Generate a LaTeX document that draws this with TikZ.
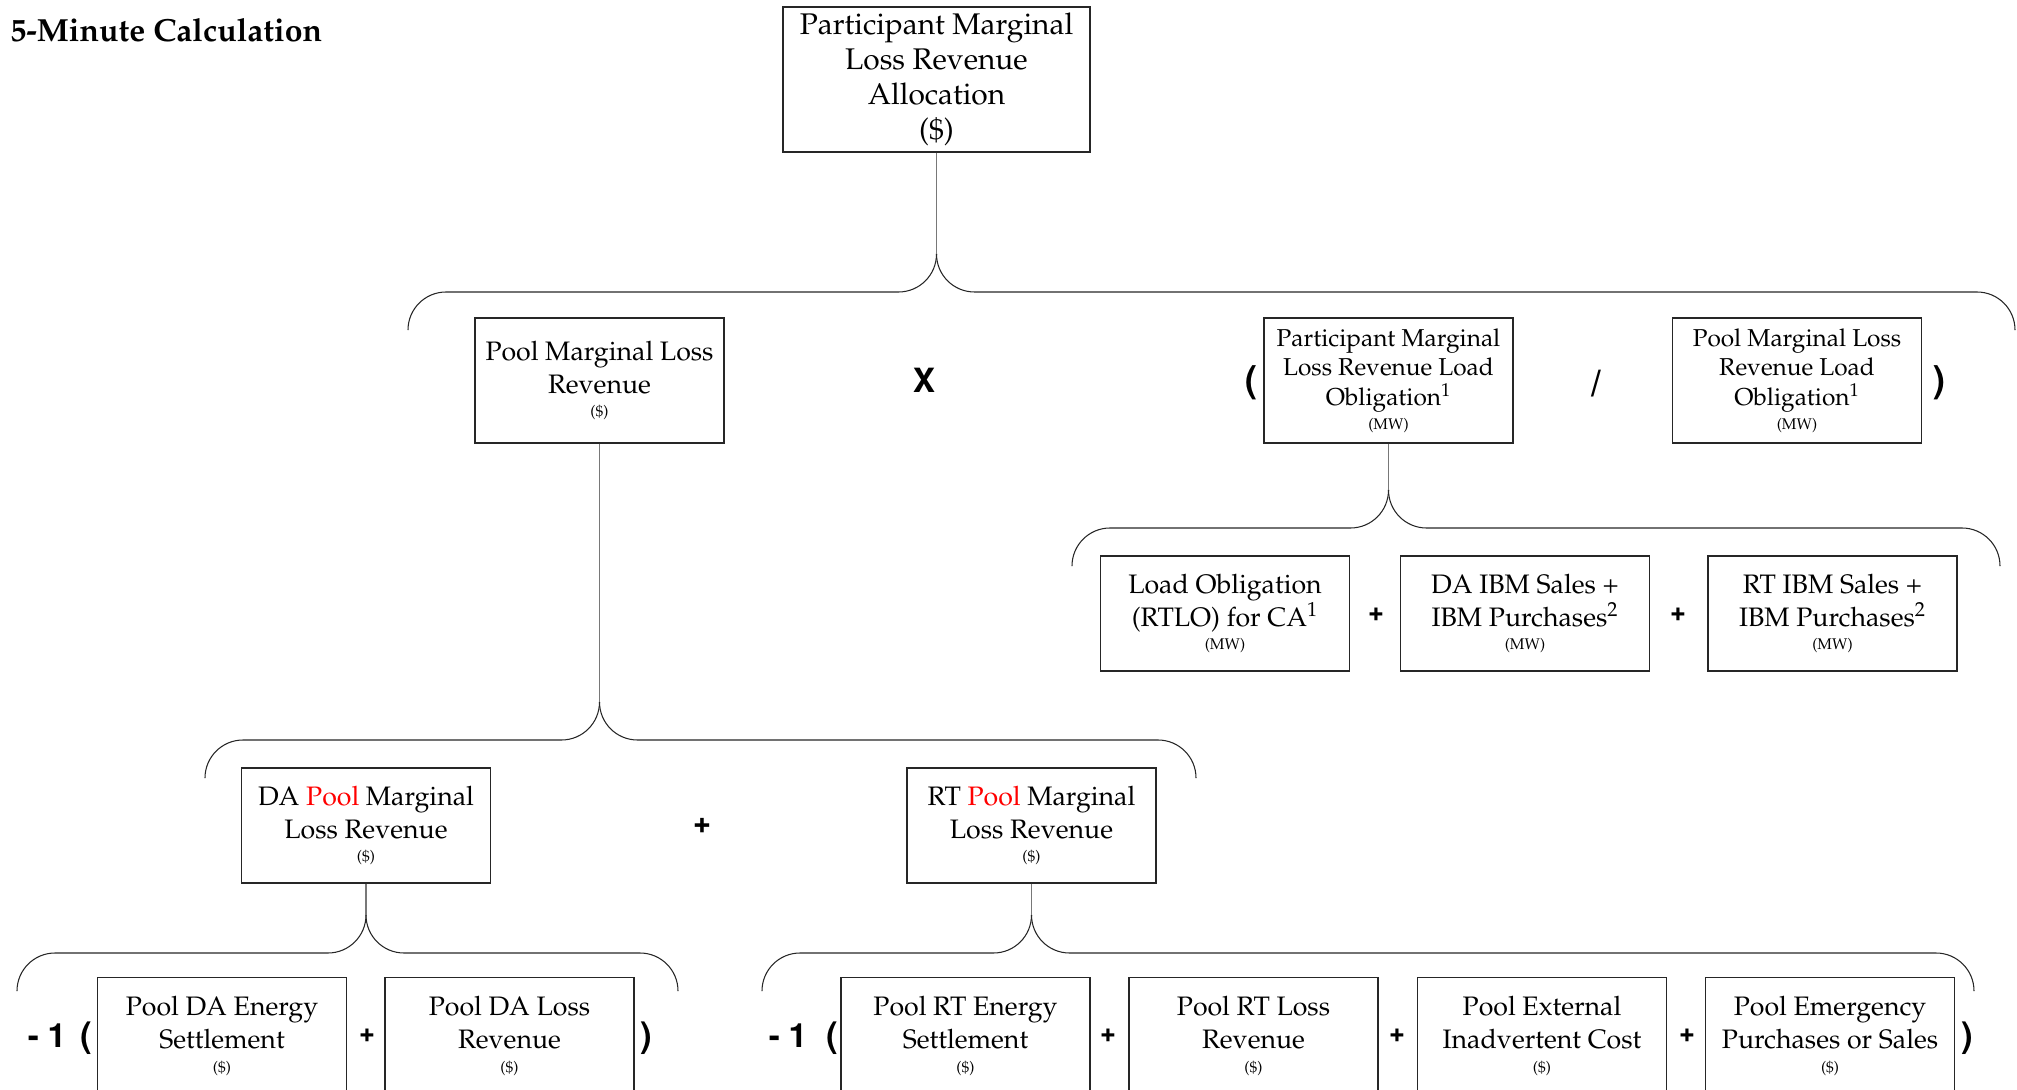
\documentclass[tikz,border=0pt]{standalone}
\usepackage[T1]{fontenc}
\usepackage{mathpazo}
\usepackage{helvet}
\usetikzlibrary{calc}

\definecolor{linkgray}{RGB}{120,120,120}
\newcommand\unitsz{\fontsize{8.8}{10}\selectfont}
\tikzset{
  calcbox/.style={draw=black!85, line width=0.65pt, minimum width=49.8mm, minimum height=23mm,
    inner sep=0pt, align=center, font=\fontsize{15.2}{18.6}\selectfont},
  topbox/.style={calcbox, minimum width=61.4mm, minimum height=29mm, font=\fontsize{17}{20}\selectfont},
  rowtwo/.style={calcbox, minimum height=25mm},
  ratio/.style={rowtwo, font=\fontsize{13.9}{16.8}\selectfont},
  lastbox/.style={calcbox, minimum height=23.4mm},
  op/.style={inner sep=0pt, font=\sffamily\bfseries\fontsize{#1}{#1}\selectfont},
  op/.default=16,
  link/.style={draw=linkgray, line width=0.8pt},
  brc/.style={draw=black!85, line width=0.6pt, rounded corners=7.6mm},
}
\newcommand\calcbrace[5]{%
  \coordinate (#1) at (#2,{#3-38});
  \draw[brc] (#4,{#3+38}) -- (#4,#3) -- (#2,#3) -- (#1);
  \draw[brc] (#5,{#3+38}) -- (#5,#3) -- (#2,#3) -- (#1);
}

\begin{document}
\begin{tikzpicture}[x=0.2mm,y=-0.2mm]
\useasboundingbox (0,0) rectangle (2017,1090);
\node[anchor=base west, inner sep=0pt, font=\bfseries\fontsize{18.2}{20}\selectfont] (title) at (10,42) {5-Minute Calculation};

\node[topbox] (alloc) at (936.5,79.5) {Participant Marginal\\Loss Revenue\\Allocation\\(\$)};

\node[rowtwo] (poolmlr) at (599.5,380.5) {Pool Marginal Loss\\Revenue\\[-5.2pt]{\unitsz(\$)}};
\node[op=19] (times) at (924,381) {X};
\node[op=21] (lpar) at (1251,383) {(};
\node[ratio] (partlo) at (1388.5,380.5) {Participant Marginal\\Loss Revenue Load\\Obligation\textsuperscript{1}\\[-3.4pt]{\unitsz(MW)}};
\node[op=21] (divide) at (1596,383) {/};
\node[ratio] (poollo) at (1797,380.5) {Pool Marginal Loss\\Revenue Load\\Obligation\textsuperscript{1}\\[-3.4pt]{\unitsz(MW)}};
\node[op=21] (rpar) at (1939,383) {)};

\node[calcbox] (rtlo) at (1225,613.5) {Load Obligation\\(RTLO) for CA\textsuperscript{1}\\[-5.2pt]{\unitsz(MW)}};
\node[op=15] (plusa) at (1376,614) {+};
\node[calcbox] (daibm) at (1525,613.5) {DA IBM Sales +\\IBM Purchases\textsuperscript{2}\\[-5.2pt]{\unitsz(MW)}};
\node[op=15] (plusb) at (1678,614) {+};
\node[calcbox] (rtibm) at (1832.5,613.5) {RT IBM Sales +\\IBM Purchases\textsuperscript{2}\\[-5.2pt]{\unitsz(MW)}};

\node[calcbox] (dapool) at (366,825.5) {DA \textcolor{red}{Pool} Marginal\\Loss Revenue\\[-5.2pt]{\unitsz(\$)}};
\node[op=17] (plusc) at (702,825) {+};
\node[calcbox] (rtpool) at (1031.5,825.5) {RT \textcolor{red}{Pool} Marginal\\Loss Revenue\\[-5.2pt]{\unitsz(\$)}};

\node[op=19] (nega) at (47,1036) {-\hspace{5pt}1};
\node[op=20] (lpara) at (86,1038) {(};
\node[lastbox] (daeng) at (222,1036) {Pool DA Energy\\Settlement\\[-5.2pt]{\unitsz(\$)}};
\node[op=15] (plusd) at (367,1035) {+};
\node[lastbox] (daloss) at (509.5,1036) {Pool DA Loss\\Revenue\\[-5.2pt]{\unitsz(\$)}};
\node[op=20] (rpara) at (646,1038) {)};
\node[op=19] (negb) at (788,1036) {-\hspace{5pt}1};
\node[op=20] (lparb) at (832,1038) {(};
\node[lastbox] (rteng) at (965.5,1036) {Pool RT Energy\\Settlement\\[-5.2pt]{\unitsz(\$)}};
\node[op=15] (pluse) at (1108,1035) {+};
\node[lastbox] (rtloss) at (1253.5,1036) {Pool RT Loss\\Revenue\\[-5.2pt]{\unitsz(\$)}};
\node[op=15] (plusf) at (1397,1035) {+};
\node[lastbox] (extinadv) at (1542,1036) {Pool External\\Inadvertent Cost\\[-5.2pt]{\unitsz(\$)}};
\node[op=15] (plusg) at (1687,1035) {+};
\node[lastbox] (emerg) at (1830,1036) {Pool Emergency\\Purchases or Sales\\[-5.2pt]{\unitsz(\$)}};
\node[op=20] (rparb) at (1967,1038) {)};

\calcbrace{tipa}{936.5}{292}{408}{2015}
\calcbrace{tipb}{1388.5}{528}{1072}{2000}
\calcbrace{tipc}{599.5}{740}{205}{1196}
\calcbrace{tipd}{366}{953}{17}{678}
\calcbrace{tipe}{1031.5}{953}{762}{1974}
\draw[link] (alloc) -- (tipa);
\draw[link] (partlo) -- (tipb);
\draw[link] (poolmlr) -- (tipc);
\draw[link] (dapool) -- (tipd);
\draw[link] (rtpool) -- (tipe);
\end{tikzpicture}
\end{document}
